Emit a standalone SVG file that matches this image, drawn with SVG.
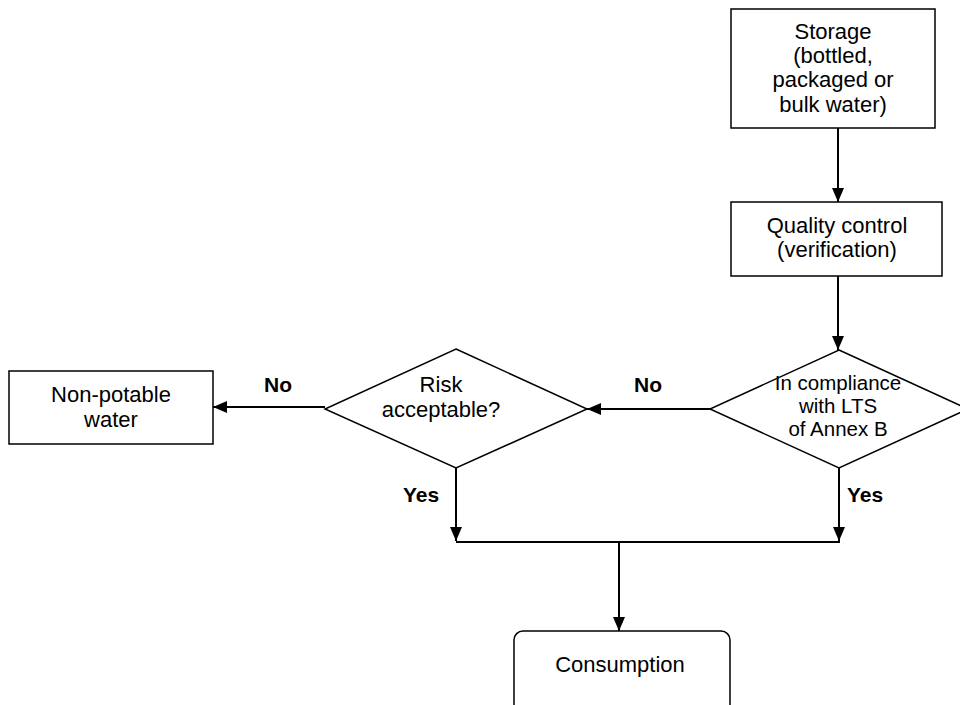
<svg xmlns="http://www.w3.org/2000/svg" width="960" height="705" viewBox="0 0 960 705">
<defs>
<style>
.box{fill:#fff;stroke:#000;stroke-width:1.5}
.t{font-family:"Liberation Sans",Arial,sans-serif;font-size:22px;fill:#000;text-anchor:middle}
.s{font-size:20.5px}
.b{font-family:"Liberation Sans",Arial,sans-serif;font-size:21px;font-weight:bold;fill:#000;text-anchor:middle}
.c{fill:none;stroke:#000;stroke-width:2}
</style>
<marker id="ah" markerWidth="14" markerHeight="14" viewBox="0 0 14 14" refX="14" refY="7" orient="auto" markerUnits="userSpaceOnUse">
<path d="M0,1 L14,7 L0,13 Z" fill="#000"/>
</marker>
</defs>
<rect width="960" height="705" fill="#fff"/>
<g id="connectors">
<line class="c" x1="838" y1="128" x2="838" y2="202" marker-end="url(#ah)"/>
<line class="c" x1="838" y1="276" x2="838" y2="350" marker-end="url(#ah)"/>
<line class="c" x1="710" y1="409" x2="587" y2="409" marker-end="url(#ah)"/>
<line class="c" x1="325" y1="407" x2="213" y2="407" marker-end="url(#ah)"/>
<line class="c" x1="456" y1="468" x2="456" y2="541" marker-end="url(#ah)"/>
<line class="c" x1="839" y1="468" x2="839" y2="541" marker-end="url(#ah)"/>
<line class="c" x1="456" y1="542" x2="840" y2="542"/>
<line class="c" x1="619" y1="542" x2="619" y2="631" marker-end="url(#ah)"/>
</g>
<g id="storage">
<rect class="box" x="731" y="9" width="204" height="119"/>
<text class="t" x="833" y="39">Storage</text>
<text class="t" x="833" y="63">(bottled,</text>
<text class="t" x="833" y="87">packaged or</text>
<text class="t" x="833" y="112">bulk water)</text>
</g>
<g id="quality">
<rect class="box" x="731" y="202" width="211" height="74"/>
<text class="t" x="837" y="233">Quality control</text>
<text class="t" x="837" y="257">(verification)</text>
</g>
<g id="compliance">
<polygon class="box" points="839,350 968,409 839,468 710,409"/>
<text class="t s" x="838" y="390">In compliance</text>
<text class="t s" x="838" y="413">with LTS</text>
<text class="t s" x="838" y="436">of Annex B</text>
</g>
<g id="risk">
<polygon class="box" points="456,349 587,409 456,468 325,409"/>
<text class="t" x="441" y="392">Risk</text>
<text class="t" x="441" y="417">acceptable?</text>
</g>
<g id="nonpotable">
<rect class="box" x="9" y="371" width="204" height="73"/>
<text class="t" x="111" y="402">Non-potable</text>
<text class="t" x="111" y="427">water</text>
</g>
<g id="consumption">
<rect class="box" x="514" y="631" width="216" height="110" rx="9" ry="9"/>
<text class="t" x="620" y="672">Consumption</text>
</g>
<g id="labels">
<text class="b" x="278" y="392">No</text>
<text class="b" x="648" y="392">No</text>
<text class="b" x="421" y="502">Yes</text>
<text class="b" x="865" y="502">Yes</text>
</g>
</svg>
